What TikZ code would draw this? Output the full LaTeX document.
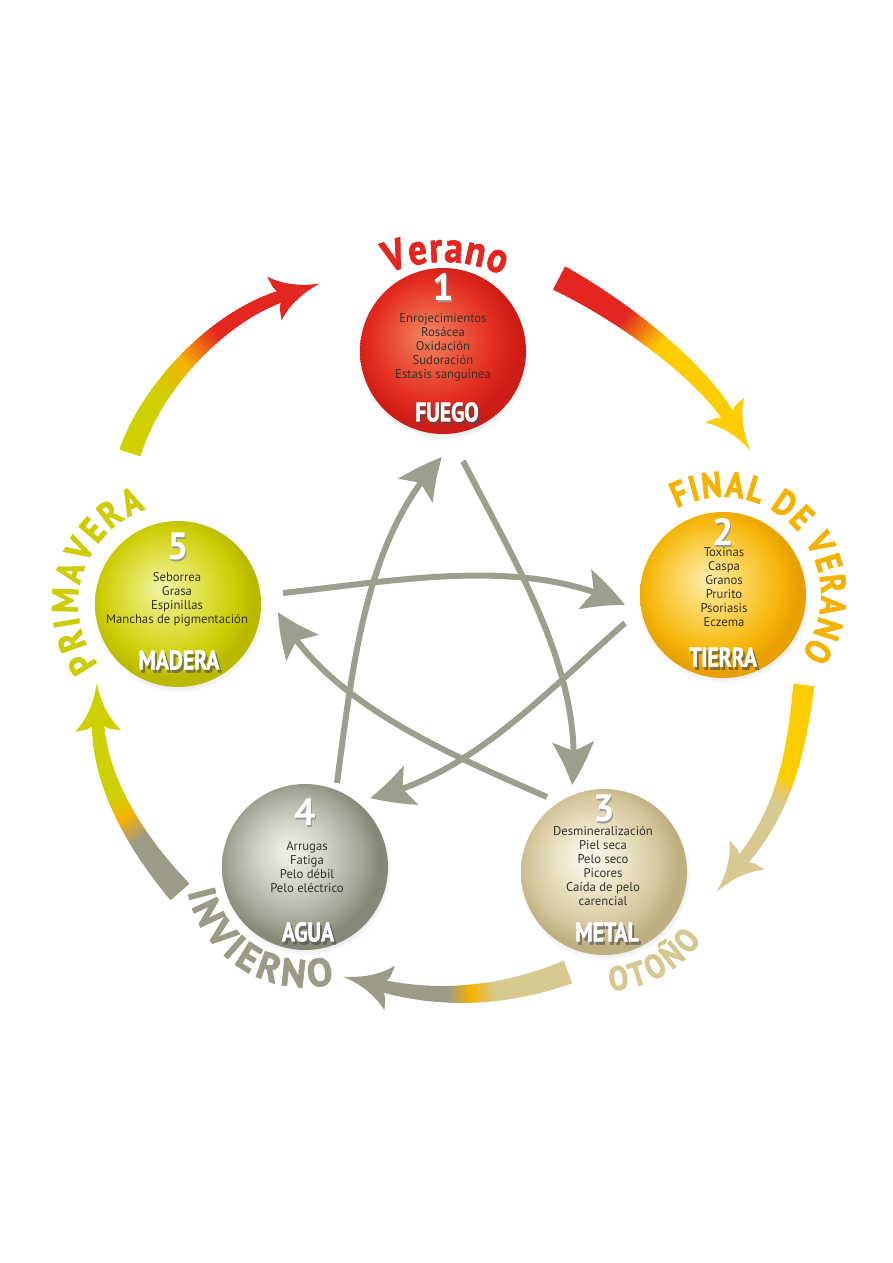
\documentclass[tikz,border=0pt]{standalone}
\usepackage{fontspec}
\setmainfont{PT Sans}
\newfontfamily\seasonfont[FakeStretch=0.86,FakeBold=1.6]{PT Sans}
\newfontfamily\seasonwide[FakeStretch=0.98,FakeBold=1.6]{PT Sans}
\newfontfamily\elemfont[FakeStretch=0.8,FakeBold=1.5]{PT Sans}
\newfontfamily\numfont{PT Sans}
\usetikzlibrary{arrows.meta,bending,decorations.text,shadows,calc}

\definecolor{redC}{RGB}{228,38,32}
\definecolor{orangeC}{RGB}{242,128,20}
\definecolor{amberC}{RGB}{247,178,0}
\definecolor{yellowC}{RGB}{253,205,0}
\definecolor{ygreenC}{RGB}{206,208,0}
\definecolor{beigeC}{RGB}{214,202,145}
\definecolor{grayC}{RGB}{155,155,135}
\definecolor{ybeigeC}{RGB}{236,200,90}
\definecolor{starC}{RGB}{158,158,142}
\definecolor{txtC}{RGB}{50,50,45}
\definecolor{finalC}{RGB}{245,178,0}
\definecolor{primaC}{RGB}{204,204,0}
\definecolor{otonoC}{RGB}{213,200,142}

\definecolor{fu0}{RGB}{242,135,100}\definecolor{fu1}{RGB}{236,90,62}
\definecolor{fu2}{RGB}{227,42,30}\definecolor{fu3}{RGB}{205,28,22}
\definecolor{ti0}{RGB}{254,236,170}\definecolor{ti1}{RGB}{252,212,90}
\definecolor{ti2}{RGB}{246,182,10}\definecolor{ti3}{RGB}{232,160,0}
\definecolor{ma0}{RGB}{242,244,170}\definecolor{ma1}{RGB}{225,227,80}
\definecolor{ma2}{RGB}{205,206,5}\definecolor{ma3}{RGB}{185,186,0}
\definecolor{ag0}{RGB}{243,243,238}\definecolor{ag1}{RGB}{210,210,200}
\definecolor{ag2}{RGB}{165,165,150}\definecolor{ag3}{RGB}{135,135,120}
\definecolor{me0}{RGB}{252,249,238}\definecolor{me1}{RGB}{236,228,200}
\definecolor{me2}{RGB}{212,198,155}\definecolor{me3}{RGB}{190,175,128}

\pgfdeclareradialshading{fuegoS}{\pgfpoint{-5bp}{5bp}}{color(0bp)=(fu0); color(9bp)=(fu1); color(19bp)=(fu2); color(25bp)=(fu3); color(50bp)=(fu3)}
\pgfdeclareradialshading{tierraS}{\pgfpoint{-5bp}{5bp}}{color(0bp)=(ti0); color(10bp)=(ti1); color(20bp)=(ti2); color(25bp)=(ti3); color(50bp)=(ti3)}
\pgfdeclareradialshading{maderaS}{\pgfpoint{-5bp}{5bp}}{color(0bp)=(ma0); color(10bp)=(ma1); color(20bp)=(ma2); color(25bp)=(ma3); color(50bp)=(ma3)}
\pgfdeclareradialshading{aguaS}{\pgfpoint{-5bp}{5bp}}{color(0bp)=(ag0); color(10bp)=(ag1); color(20bp)=(ag2); color(25bp)=(ag3); color(50bp)=(ag3)}
\pgfdeclareradialshading{metalS}{\pgfpoint{-5bp}{5bp}}{color(0bp)=(me0); color(10bp)=(me1); color(20bp)=(me2); color(25bp)=(me3); color(50bp)=(me3)}

\pgfkeys{/garrow/.cd,
  w0/.store in=\gaWa, w1/.store in=\gaWb,
  ta/.store in=\gaTa, tb/.store in=\gaTb, tc/.store in=\gaTc,
  ca/.store in=\gaCa, cb/.store in=\gaCb, cc/.store in=\gaCc}
\def\garrow(#1,#2)(#3,#4)(#5,#6)(#7,#8)[#9]{%
  \pgfkeys{/garrow/.cd,#9}%
  \foreach \gi in {0,...,59}{%
    \pgfmathsetmacro\gT{\gi/60}%
    \pgfmathsetmacro\gU{min((\gi+1.4)/60,1)}%
    \pgfmathsetmacro\gxa{(1-\gT)^3*#1+3*(1-\gT)^2*\gT*#3+3*(1-\gT)*\gT^2*#5+\gT^3*#7}%
    \pgfmathsetmacro\gya{(1-\gT)^3*#2+3*(1-\gT)^2*\gT*#4+3*(1-\gT)*\gT^2*#6+\gT^3*#8}%
    \pgfmathsetmacro\gxb{(1-\gU)^3*#1+3*(1-\gU)^2*\gU*#3+3*(1-\gU)*\gU^2*#5+\gU^3*#7}%
    \pgfmathsetmacro\gyb{(1-\gU)^3*#2+3*(1-\gU)^2*\gU*#4+3*(1-\gU)*\gU^2*#6+\gU^3*#8}%
    \pgfmathsetmacro\gpa{100*min(max((\gT-\gaTa)/(\gaTb-\gaTa),0),1)}%
    \pgfmathsetmacro\gpb{100-100*min(max((\gT-\gaTb)/(\gaTc-\gaTb),0),1)}%
    \pgfmathsetmacro\gw{\gaWa+(\gaWb-\gaWa)*\gT}%
    \draw[line width=\gw pt, color=\gaCb!\gpa!\gaCa!\gpb!\gaCc] (\gxa,\gya) -- (\gxb,\gyb);
  }%
  \pgfmathsetmacro\gang{atan2(-(#8-#6),#7-#5)}%
  \begin{scope}[shift={(#7,#8)}, rotate=\gang]
    \fill[\gaCc] (40,0) .. controls (22,3) and (5,10) .. (-8,23) -- (-6,11)
      .. controls (-3,5) .. (0,0) .. controls (-3,-5) .. (-6,-11) -- (-8,-23)
      .. controls (5,-10) and (22,-3) .. (40,0) -- cycle;
  \end{scope}
}

\begin{document}
\begin{tikzpicture}[x=1pt,y=-1pt,
  ball/.style={circle, minimum size=166pt, inner sep=0pt, shade,
    circular drop shadow={shadow xshift=1pt, shadow yshift=-3pt, shadow scale=1.03, opacity=0.3}},
  bodytxt/.style={font=\fontsize{12.7}{14}\selectfont, align=center, text=txtC, inner sep=0pt},
  numtxt/.style={font=\numfont\bfseries\fontsize{38}{38}\selectfont, inner sep=0pt},
  elemtxt/.style={font=\elemfont\bfseries\fontsize{27}{27}\selectfont, inner sep=0pt},
  star/.style={draw=starC, line width=6pt, -{Stealth[length=43pt,width=41pt,inset=9pt,bend]}},
  season/.style={decorate, decoration={text along path, text align=fit to path, text={#1}}}
]
\fill[white] (0,0) rectangle (893,1263);
\useasboundingbox (0,0) rectangle (893,1263);

% outer cycle arrows
\garrow(130,453)(150,390)(215,318)(282,296)[w0=22,w1=12,ta=0.3,tb=0.47,tc=0.66,ca=ygreenC,cb=amberC,cc=redC]
\garrow(559,278)(621,310)(697,367)(729,417)[w0=26,w1=13,ta=0.33,tb=0.43,tc=0.52,ca=redC,cb=orangeC,cc=yellowC]
\garrow(804,685)(796,755)(784,810)(742,861)[w0=21,w1=12,ta=0.48,tb=0.55,tc=0.63,ca=yellowC,cb=ybeigeC,cc=beigeC]
\garrow(568,972)(503,997)(440,1000)(382,986)[w0=24,w1=12,ta=0.36,tb=0.5,tc=0.62,ca=beigeC,cb=amberC,cc=grayC]
\garrow(180,892)(138,845)(100,785)(98,723)[w0=25,w1=12,ta=0.33,tb=0.47,tc=0.58,ca=grayC,cb=amberC,cc=ygreenC]

% inner star arrows
\coordinate (sA) at (337,783); \coordinate (tA) at (442,457);
\coordinate (sB) at (463,461); \coordinate (tB) at (572,785);
\coordinate (sC) at (283,593); \coordinate (tC) at (625,605);
\coordinate (sD) at (625,623); \coordinate (tD) at (370,798);
\coordinate (sE) at (547,797); \coordinate (tE) at (278,612);
\draw[star] (sA) .. controls (354,654) and (367,537) .. (tA);
\draw[star] (sB) .. controls (518,568) and (585,676) .. (tB);
\draw[star] (sC) .. controls (402,580) and (527,556) .. (tC);
\draw[star] (sD) .. controls (542,696) and (468,777) .. (tD);
\draw[star] (sE) .. controls (437,749) and (326,700) .. (tE);

% balls
\node[ball, shading=fuegoS] (fuego) at (443,351) {};
\node[ball, shading=tierraS] (tierra) at (723,595) {};
\node[ball, shading=maderaS] (madera) at (178,604) {};
\node[ball, shading=aguaS] (agua) at (305,867) {};
\node[ball, shading=metalS] (metal) at (604,872) {};

% numbers
\node[numtxt, text=black!40] (n1s) at (444.5,289) {1};
\node[numtxt, text=white] (n1) at (443,287) {1};
\node[numtxt, text=black!40] (n2s) at (724.5,534) {2};
\node[numtxt, text=white] (n2) at (723,532) {2};
\node[numtxt, text=black!40] (n5s) at (179.5,548) {5};
\node[numtxt, text=white] (n5) at (178,546) {5};
\node[numtxt, text=black!40] (n4s) at (306.5,814) {4};
\node[numtxt, text=white] (n4) at (305,812) {4};
\node[numtxt, text=black!40] (n3s) at (605.5,810) {3};
\node[numtxt, text=white] (n3) at (604,808) {3};

% body texts
\node[bodytxt] (fuegoT) at (443,347) {Enrojecimientos\\Rosácea\\Oxidación\\Sudoración\\Estasis sanguínea};
\node[bodytxt] (tierraT) at (724,587) {Toxinas\\Caspa\\Granos\\Prurito\\Psoriasis\\Eczema};
\node[bodytxt] (maderaT) at (177,599) {Seborrea\\Grasa\\Espinillas\\Manchas de pigmentación};
\node[bodytxt] (aguaT) at (307,867) {Arrugas\\Fatiga\\Pelo débil\\Pelo eléctrico};
\node[bodytxt] (metalT) at (603,866) {Desmineralización\\Piel seca\\Pelo seco\\Picores\\Caída de pelo\\carencial};

% element names
\node[elemtxt, text=black!70, opacity=0.6] (e1s) at (449,415) {FUEGO};
\node[elemtxt, text=white] (e1) at (447,412) {FUEGO};
\node[elemtxt, text=black!70, opacity=0.6] (e2s) at (725,660) {TIERRA};
\node[elemtxt, text=white] (e2) at (723,657) {TIERRA};
\node[elemtxt, text=black!70, opacity=0.6] (e5s) at (181,663) {MADERA};
\node[elemtxt, text=white] (e5) at (179,660) {MADERA};
\node[elemtxt, text=black!70, opacity=0.6] (e4s) at (310,935) {AGUA};
\node[elemtxt, text=white] (e4) at (308,932) {AGUA};
\node[elemtxt, text=black!70, opacity=0.6] (e3s) at (609,935) {METAL};
\node[elemtxt, text=white] (e3) at (607,932) {METAL};

% season labels
\path[season={|\seasonfont\bfseries\fontsize{43}{43}\selectfont\color{redC}|Verano}]
  (443,402) ++(113:140pt) arc[start angle=113, end angle=65, radius=140pt];
\path[season={|\seasonfont\bfseries\fontsize{36}{36}\selectfont\color{finalC}|FINAL DE VERANO}]
  (723,595) ++(118:98pt) arc[start angle=118, end angle=-37, radius=98pt];
\path[season={|\seasonfont\bfseries\fontsize{37}{37}\selectfont\color{primaC}|PRIMAVERA}]
  (178,604) ++(217:100pt) arc[start angle=217, end angle=109, radius=100pt];
\path[season={|\seasonwide\bfseries\fontsize{39}{39}\selectfont\color{grayC}|INVIERNO}]
  (305,867) ++(192:120pt) arc[start angle=192, end angle=284, radius=120pt];
\path[season={|\seasonfont\bfseries\fontsize{34}{34}\selectfont\color{otonoC}|OTOÑO}]
  (604,872) ++(273:119pt) arc[start angle=273, end angle=325, radius=119pt];
\end{tikzpicture}
\end{document}
